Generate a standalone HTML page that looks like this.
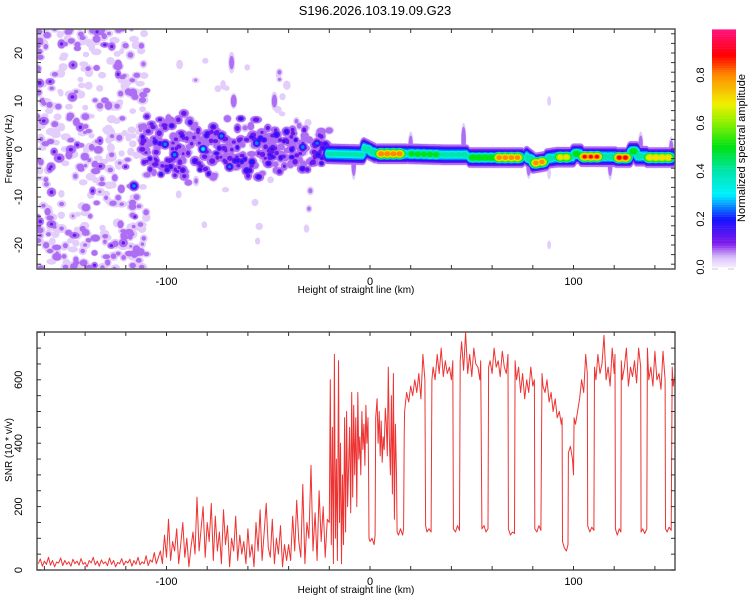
<!DOCTYPE html>
<html><head><meta charset="utf-8"><style>
body{margin:0;background:#fff;}
svg{display:block;font-family:"Liberation Sans",sans-serif;}
</style></head><body>
<svg id="c" width="750" height="600" viewBox="0 0 750 600"></svg>
<script>
// ---- data ----
const ridgeSegments = [[-21,-3,-1,-1.2,0.42],[-3,3,0.3,-1,0.5],[4,18,-1,-1,0.88],[19,36,-1,-1.2,0.55],[36,48,-1.2,-1.2,0.45],[49,62,-1.8,-1.8,0.6],[62,75,-1.8,-1.8,0.86],[77,80,-1.5,-2.5,0.5],[80,87,-3,-2.5,0.85],[87,92,-2,-1.7,0.5],[92,100,-1.7,-1.7,0.75],[100,104,-1,-1,0.6],[104,114,-1.6,-1.6,0.9],[114,121,-1.6,-1.6,0.5],[121,128,-1.8,-1.8,0.92],[128,131,-0.5,-0.5,0.6],[131,136,-1.5,-1.5,0.5],[136,149,-1.8,-1.8,0.8]];
const strongBlobs = [[-116,-7.7,0.3],[-100.7,1,0.3],[-96,-1.2,0.3],[-82,0,0.36],[-73,2.7,0.3],[-69,-3.7,0.28],[-60.6,-4.5,0.25],[-55.7,1.2,0.3],[-58,-2.7,0.25],[-46,3,0.25],[-33,0.4,0.3],[-26,1.2,0.28],[-25.5,-1.2,0.25],[-41,3.6,0.22],[-86,-2.5,0.22],[-92,-4.4,0.2]];
const spikeBlobs = [[-8,-3,0.12,2,18],[20,1,0.1,2,14],[46,2,0.12,2,18],[78,-3.5,0.12,2,14],[118,-3,0.12,2,18],[133,1,0.1,2,14],[148,0,0.1,2,14],[88,-5,0.05,1.5,8],[88,10,0.05,1.5,6],[88,-20,0.05,1.5,5],[-68,18,0.09,3,12],[-67,10,0.12,3,8],[-47,10,0.1,3,10]];
const snrLeftStart = -163;
const snrLeft = [20,35,12,28,18,40,15,30,10,25,22,38,14,30,18,26,12,34,20,28,15,36,18,24,10,30,22,40,16,28,12,32,20,26,14,38,18,30,10,24,20,36,15,28,22,34,12,30,18,40,16,26,20,45,14,32,25,55,20,40,
60,20,110,40,160,30,90,60,130,20,80,150,40,100,10,70,120,50,230,60,130,200,40,150,90,210,30,170,60,120,20,190,80,140,10,100,60,170,30,110,50,90,20,130,40,80,10,150,60,190,30,120,210,70,40,160,20,100,50,140,10,80,30,
80,30,170,60,220,90,40,270,20,150,100,330,60,180,30,250,90,200,40,160];
const snrRight = [[-20,150],[-19.5,600],[-19,80],[-18.5,450],[-18,20],[-17.5,680],[-17,100],[-16.5,350],[-16,30],[-15.5,660],[-15,150],[-14.5,400],[-14,20],[-13.5,300],[-13,80],[-12.5,480],[-12,120],[-11.5,500],[-11,200],[-10,450],[-9.5,180],[-9,560],[-8.5,230],[-8,520],[-7.5,300],[-7,480],[-6.5,200],[-6,560],[-5.5,350],[-5,420],[-4.5,300],[-4,500],[-3.5,380],[-3,460],[-2.5,330],[-2,520],[-1.5,400],[-1,480],[-0.7,300],
[-0.5,100],[0,90],[1,100],[2,80],[2.5,110],[2.8,480],[3.5,540],[4,400],[4.5,500],[5,360],[5.5,470],[6,340],[6.5,420],[7,380],[7.5,510],[8,460],[8.5,360],[9,640],[9.5,420],[10,300],[10.5,550],[11,240],[11.5,620],[12,160],[12.5,460],[13,300],[13.3,120],[14,110],[15,130],[16,110],[16.5,130],[16.8,420],[17,500],[18,560],[19,530],[20,580],[21,550],[22,600],[23,560],[24,620],[25,540],[26,680],[27,600],[27.3,140],[28,120],[29,130],[30,120],[30.4,600],[31,640],[32,600],[33,680],[34,620],[35,700],[36,610],[37,660],[38,620],[39,640],[40,600],[40.7,660],[41,130],[42,120],[43,140],[44,125],[44.3,660],[45,720],[46,630],[47,750],[48,620],[49,680],[50,610],[51,700],[52,650],[53,640],[54,600],[54.4,660],[55,130],[56,140],[57,120],[58,130],[58.3,640],[59,660],[60,620],[61,700],[62,640],[63,660],[64,610],[65,690],[66,640],[67,620],[67.8,680],[68,130],[69,110],[70,120],[71,115],[71.3,660],[72,600],[73,640],[74,560],[75,620],[76,540],[77,600],[78,560],[79,640],[80,580],[80.8,600],[81,130],[82,120],[83,140],[84,125],[84.5,620],[85,580],[86,560],[87,600],[88,530],[89,560],[90,500],[91,540],[92,480],[93,500],[94,460],[94.4,480],[94.6,90],[95.5,70],[96.5,60],[97.3,80],[97.5,370],[98.5,390],[99.5,350],[100,300],[100.3,480],[101,460],[102,500],[103,540],[104,600],[105,560],[106,680],[106.8,620],[107,140],[108,120],[109,135],[110,125],[110.3,640],[111,600],[112,680],[113,620],[114,650],[115,740],[116,600],[117,640],[118,580],[119,700],[120,620],[120.4,680],[120.6,130],[121.5,110],[122.5,130],[123.3,120],[123.5,660],[124,600],[125,640],[126,700],[127,580],[128,640],[129,610],[130,660],[131,590],[132,700],[133,640],[133.2,120],[134,130],[135,115],[136,130],[136.3,700],[137,600],[138,640],[139,580],[140,690],[141,600],[142,620],[143,570],[144,690],[145,600],[145.2,130],[146,120],[147,135],[148,125],[148.5,640],[149,580],[150,620]];
const xTickLabels = [-100,0,100];
const freqTickLabels = [-20,-10,0,10,20];
const snrTickLabels = [0,200,400,600];
const cbarTickLabels = [0.0,0.2,0.4,0.6,0.8];

// ---- axes ----
const L=37,R=675,T1=29,B1=269,T2=332,B2=570;
const px = km => 370 + km*2.035;
const pyF = f => 149 - f*4.8;
const pyS = v => 570 - v*0.317;
const cbY = v => 267 - v*240;

const NS='http://www.w3.org/2000/svg';
const svg=document.getElementById('c');
function el(tag,attrs,parent){const e=document.createElementNS(NS,tag);for(const k in attrs)e.setAttribute(k,attrs[k]);(parent||svg).appendChild(e);return e;}
function txt(s,x,y,size,rot,parent){const t=el('text',{x:x,y:y,'font-size':size,'text-anchor':'middle',fill:'#000'},parent);if(rot)t.setAttribute('transform','rotate(-90 '+x+' '+y+')');t.textContent=s;return t;}

const stops=[[0,[245,235,255]],[0.04,[220,195,250]],[0.1,[125,25,235]],[0.2,[20,20,255]],[0.3,[0,240,255]],[0.4,[0,230,170]],[0.5,[0,225,20]],[0.6,[140,240,0]],[0.68,[240,240,0]],[0.8,[255,140,0]],[0.88,[255,0,0]],[1,[255,20,140]]];
function cmap(v){for(let i=1;i<stops.length;i++){if(v<=stops[i][0]){const a=stops[i-1],b=stops[i];const t=(v-a[0])/(b[0]-a[0]);return 'rgb('+a[1].map((c,j)=>Math.round(c+(b[1][j]-c)*t)).join(',')+')';}}return 'rgb(255,20,140)';}

const title=txt('S196.2026.103.19.09.G23',375,15,13);



// ---- spectrogram ----
const defs=el('defs',{});
const cp=el('clipPath',{id:'cp1'},defs);el('rect',{x:L,y:T1,width:R-L,height:B1-T1},cp);
const spec=el('g',{'clip-path':'url(#cp1)'});


const blobs=[];
// decorative background noise field
let seed=12345;function rnd(){seed=(seed*1103515245+12345)%2147483648;return seed/2147483648;}
for(let i=0;i<420;i++){const r=rnd();blobs.push([-164+rnd()*55,-26+rnd()*52,r<0.15?0.11+rnd()*0.04:0.04+rnd()*0.06,3+rnd()*3,2.5+rnd()*2.5]);}
for(let i=0;i<300;i++){const km=-112+rnd()*92;const sp=9-(km+112)/92*4;blobs.push([km,(rnd()*2-1)*sp*(0.4+0.6*rnd()),0.08+rnd()*0.14,3+rnd()*3,3+rnd()*2]);}
for(let i=0;i<40;i++){blobs.push([-110+rnd()*90,(rnd()*2-1)*20,0.04+rnd()*0.04,2.5+rnd()*2,2.5+rnd()*3]);}
strongBlobs.forEach(b=>blobs.push([b[0],b[1],b[2],5,5]));
spikeBlobs.forEach(b=>blobs.push(b));
ridgeSegments.forEach(s=>{for(let k=s[0];k<=s[1];k+=0.6){const t=(k-s[0])/Math.max(0.01,s[1]-s[0]);blobs.push([k,s[2]+(s[3]-s[2])*t,0.45,4,10]);}
for(let k=s[0]+1.5;k<=s[1]-1;k+=3){const t=(k-s[0])/Math.max(0.01,s[1]-s[0]);blobs.push([k,s[2]+(s[3]-s[2])*t,s[4],8,6,0.55]);}});
const levels=[0.03,0.07,0.12,0.18,0.25,0.32,0.4,0.5,0.6,0.7,0.8,0.88,0.95];
levels.forEach(lv=>{const col=cmap(lv);blobs.forEach(b=>{if(b[2]>lv){const fct=b[5]?Math.pow(1-lv/b[2],b[5]):(lv<0.1?Math.sqrt(1-lv/b[2]):(1-lv/b[2]));if(fct<0.1)return;const e=el('ellipse',{cx:px(b[0]).toFixed(1),cy:pyF(b[1]).toFixed(1),rx:(b[3]*fct+1).toFixed(1),ry:(b[4]*fct+1).toFixed(1),fill:col},spec);

}});});

function frame(top,bot,name){const r=el('rect',{x:L,y:top,width:R-L,height:bot-top,fill:'none',stroke:'#555','stroke-width':1.5});
for(let k=-160;k<=150;k+=20){const x=px(k);el('line',{x1:x,y1:bot,x2:x,y2:bot-4,stroke:'#333'});el('line',{x1:x,y1:top,x2:x,y2:top+4,stroke:'#333'});}}
frame(T1,B1,'spectrogram-frame');
for(let f=-24;f<=24;f+=2){const y=pyF(f);el('line',{x1:L,y1:y,x2:L+4,y2:y,stroke:'#333'});el('line',{x1:R,y1:y,x2:R-4,y2:y,stroke:'#333'});}
freqTickLabels.forEach(v=>{const t=txt(String(v),22,pyF(v),11,true);});
xTickLabels.forEach(v=>{const t=txt(String(v),px(v),285,11);});
let t1=txt('Height of straight line (km)',356,293,10);
let t2=txt('Frequency (Hz)',12,149,10,true);

// ---- colorbar ----
const cb=el('g',{});


for(let v=0;v<0.985;v+=0.01){el('rect',{x:712,y:cbY(v+0.01).toFixed(1),width:24,height:2.6,fill:cmap(v+0.005)},cb);}
el('line',{x1:712,y1:269,x2:718,y2:269,stroke:'#ccc'},cb);el('line',{x1:728,y1:269,x2:734,y2:269,stroke:'#ccc'},cb);
cbarTickLabels.forEach(v=>{const t=txt(v.toFixed(1),704,cbY(v),11,true);});
let t3=txt('Normalized spectral amplitude',745,148,11,true);

// ---- SNR plot ----
const cp2=el('clipPath',{id:'cp2'},defs);el('rect',{x:L,y:T2,width:R-L,height:B2-T2},cp2);
const pts=[];snrLeft.forEach((v,i)=>pts.push([snrLeftStart+i,v]));snrRight.forEach(p=>pts.push(p));
const line=el('polyline',{points:pts.map(p=>px(p[0]).toFixed(1)+','+pyS(p[1]).toFixed(1)).join(' '),fill:'none',stroke:'#ee3333','stroke-width':1,'stroke-linejoin':'round','clip-path':'url(#cp2)'});


frame(T2,B2,'snr-frame');
for(let v=0;v<=750;v+=50){const y=pyS(v);el('line',{x1:L,y1:y,x2:L+4,y2:y,stroke:'#333'});el('line',{x1:R,y1:y,x2:R-4,y2:y,stroke:'#333'});}
snrTickLabels.forEach(v=>{const t=txt(String(v),22,pyS(v),11,true);});
xTickLabels.forEach(v=>{const t=txt(String(v),px(v),585,11);});
let t4=txt('Height of straight line (km)',356,593,10);
let t5=txt('SNR (10 * v/v)',12,450,10,true);
</script>
</body></html>
